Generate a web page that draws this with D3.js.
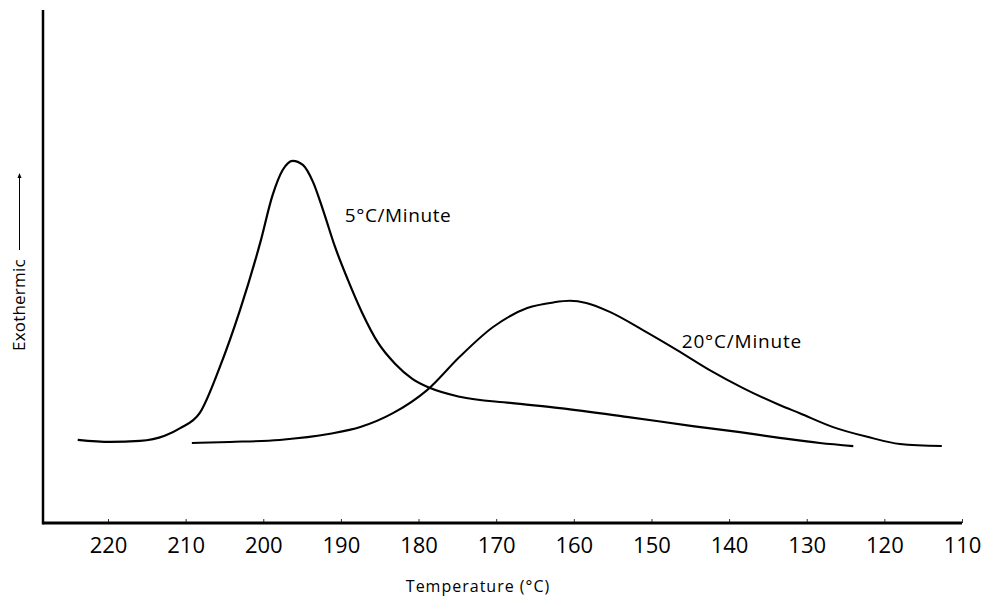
<!DOCTYPE html>
<html>
<head>
<meta charset="utf-8">
<script src="https://cdn.jsdelivr.net/npm/d3@7"></script>
<style>
  body { margin: 0; background: #fff; }
  text { font-family: "Open Sans", "Noto Sans", sans-serif; font-weight: 400; fill: #000; }
</style>
</head>
<body>
<div id="chart"></div>
<script>
// Temperature ticks (axis runs hot -> cool)
var tickTemps = [220, 210, 200, 190, 180, 170, 160, 150, 140, 130, 120, 110];

// 5 C/Minute trace: temperature and exotherm (arbitrary units 0-100)
var temp5 = [223.9, 219.7, 215.9, 212.7, 210.7, 208.2, 205.6, 203.0, 200.4, 198.8, 197.5, 196.2,
  194.9, 193.6, 192.3, 190.8, 189.1, 187.3, 185.2, 183.0, 180.8, 178.5, 174.7, 168.2, 161.8,
  153.2, 144.7, 138.6, 133.5, 128.3, 124.0];
var exo5 = [16.2, 15.8, 16.0, 17.0, 18.5, 21.4, 30.4, 41.5, 54.6, 63.9, 68.8, 70.6,
  69.8, 66.5, 61.0, 54.0, 47.4, 41.1, 35.1, 31.0, 28.1, 26.3, 24.6, 23.4, 22.4,
  20.7, 18.9, 17.7, 16.6, 15.6, 15.0];

// 20 C/Minute trace
var temp20 = [209.2, 204.3, 197.9, 191.4, 187.5, 183.3, 178.9, 174.7, 170.4, 166.0, 162.6, 160.5,
  158.4, 155.3, 151.1, 146.7, 142.5, 138.2, 133.5, 130.9, 126.6, 122.2, 118.0, 112.6];
var exo20 = [15.6, 15.8, 16.2, 17.4, 18.7, 21.4, 25.9, 32.4, 38.2, 41.9, 43.0, 43.3,
  42.9, 41.1, 37.6, 33.7, 29.8, 26.3, 23.0, 21.4, 18.7, 16.8, 15.4, 15.0];

var width = 986;
var height = 600;
var axisLeftX = 43;
var axisBottomY = 523;
var axisTopY = 10;
var axisRightX = 962;

var svg = d3.select("#chart")
  .append("svg")
  .attr("width", width)
  .attr("height", height);

var xScale = d3.scaleLinear()
  .domain([220, 110])
  .range([108, 962]);

var yScale = d3.scaleLinear()
  .domain([0, 100])
  .range([axisBottomY, axisTopY]);

// x axis: small inward ticks, labels only at tens
var xAxis = d3.axisBottom(xScale)
  .tickValues(tickTemps)
  .tickSizeInner(-4)
  .tickSizeOuter(0)
  .tickPadding(14);

var gx = svg.append("g")
  .attr("transform", "translate(0," + axisBottomY + ")")
  .call(xAxis);
gx.select(".domain").remove();
gx.selectAll(".tick line").attr("stroke", "#333").attr("stroke-width", 1);
gx.selectAll(".tick text")
  .attr("font-size", 22)
  .attr("font-family", "'Open Sans', sans-serif")
  .attr("font-weight", 300)
  .attr("fill", "#000");

// axis frame lines
svg.append("line")
  .attr("x1", axisLeftX).attr("x2", axisRightX)
  .attr("y1", axisBottomY).attr("y2", axisBottomY)
  .attr("stroke", "#000").attr("stroke-width", 3);
svg.append("line")
  .attr("x1", axisLeftX).attr("x2", axisLeftX)
  .attr("y1", axisTopY).attr("y2", axisBottomY + 1.5)
  .attr("stroke", "#000").attr("stroke-width", 2.5);

// axis titles
svg.append("text")
  .attr("x", 478)
  .attr("y", 592)
  .attr("text-anchor", "middle")
  .attr("font-size", 16)
  .attr("letter-spacing", 1)
  .text("Temperature (°C)");

svg.append("text")
  .attr("transform", "translate(25,351) rotate(-90)")
  .attr("text-anchor", "start")
  .attr("font-size", 17)
  .attr("letter-spacing", 0.2)
  .text("Exothermic");

// arrow pointing up next to the y title
svg.append("defs").append("marker")
  .attr("id", "arrow")
  .attr("viewBox", "0 0 10 10")
  .attr("refX", 8).attr("refY", 5)
  .attr("markerWidth", 5).attr("markerHeight", 5)
  .attr("orient", "auto")
  .append("path")
  .attr("d", "M0,1 L10,5 L0,9 Z")
  .attr("fill", "#000");

svg.append("line")
  .attr("x1", 19.5).attr("x2", 19.5)
  .attr("y1", 250).attr("y2", 174)
  .attr("stroke", "#000").attr("stroke-width", 1)
  .attr("marker-end", "url(#arrow)");

// curves
var line = d3.line()
  .x(function(d) { return xScale(d[0]); })
  .y(function(d) { return yScale(d[1]); })
  .curve(d3.curveMonotoneX);

var series5 = d3.zip(temp5, exo5);
var series20 = d3.zip(temp20, exo20);

svg.append("path")
  .datum(series5)
  .attr("d", line)
  .attr("fill", "none")
  .attr("stroke", "#000")
  .attr("stroke-width", 2.2);

svg.append("path")
  .datum(series20)
  .attr("d", line)
  .attr("fill", "none")
  .attr("stroke", "#000")
  .attr("stroke-width", 2);

// curve labels
svg.append("text")
  .attr("x", xScale(189.5))
  .attr("y", 222)
  .attr("font-size", 19)
  .attr("font-weight", 300)
  .attr("letter-spacing", 0.6)
  .text("5°C/Minute");

svg.append("text")
  .attr("x", xScale(146.1))
  .attr("y", 348)
  .attr("font-size", 19)
  .attr("font-weight", 300)
  .attr("letter-spacing", 0.8)
  .text("20°C/Minute");
</script>
</body>
</html>
